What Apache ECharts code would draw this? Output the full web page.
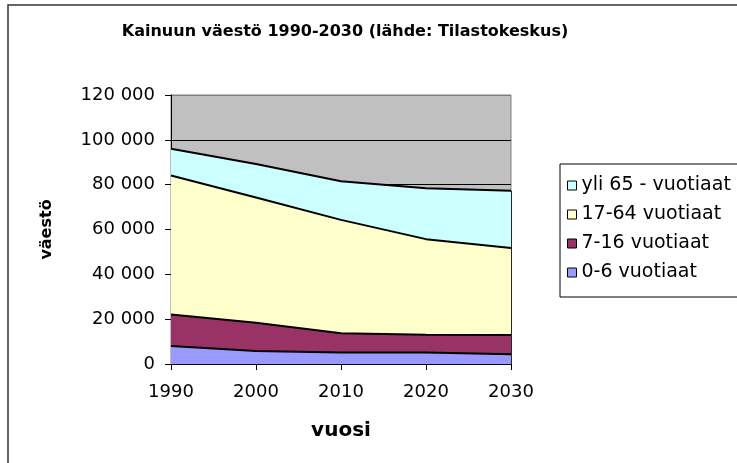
<!DOCTYPE html>
<html>
<head>
<meta charset="utf-8">
<script src="https://cdn.jsdelivr.net/npm/echarts@6/dist/echarts.min.js"></script>
<style>
    html, body { margin: 0; padding: 0; background: #fff; }
    #chart { width: 737px; height: 463px; }
</style>
</head>
<body>
<div id="chart"></div>
<script>
// vuodet (x-akseli)
var years = ['1990', '2000', '2010', '2020', '2030'];

// ikäryhmät, luettu kuvasta
var age0to6 = [8000, 5800, 5100, 5100, 4300];
var age7to16 = [14100, 12600, 8600, 7900, 8600];
var age17to64 = [62000, 55900, 50600, 42700, 38800];
var age65plus = [11900, 14900, 17200, 22700, 25600];

var seriesNames = ['0-6 vuotiaat', '7-16 vuotiaat', '17-64 vuotiaat', 'yli 65 - vuotiaat'];
var seriesColors = ['#9999FF', '#993366', '#FFFFCC', '#CCFFFF'];

// y-akseli
var yMin = 0;
var yMax = 120000;
var yStep = 20000;

var font = 'DejaVu Sans';

function fmtThousands(v) {
    return String(v).replace(/\B(?=(\d{3})+(?!\d))/g, ' ');
}

var lastTotal = age0to6[4] + age7to16[4] + age17to64[4] + age65plus[4];

function makeSeries(i, data) {
    return {
        name: seriesNames[i],
        type: 'line',
        stack: 'vaesto',
        data: data,
        symbol: 'none',
        z: 10 - i, // alempi sarja päälle, jotta viivat näkyvät kokonaan
        itemStyle: { color: seriesColors[i] },
        lineStyle: { color: '#000', width: 2 },
        areaStyle: { color: seriesColors[i], opacity: 1 },
        emphasis: { disabled: true }
    };
}

var series = [
    makeSeries(0, age0to6),
    makeSeries(1, age7to16),
    makeSeries(2, age17to64),
    makeSeries(3, age65plus)
];
// oikea reuna 2030 kohdalla
series[3].markLine = {
    silent: true,
    symbol: 'none',
    label: { show: false },
    lineStyle: { color: '#000', width: 1.6, type: 'solid' },
    data: [[{ coord: [years[4], 0] }, { coord: [years[4], lastTotal] }]]
};

var chart = echarts.init(document.getElementById('chart'));
chart.setOption({
    backgroundColor: '#fff',
    animation: false,
    title: {
        text: 'Kainuun väestö 1990-2030 (lähde: Tilastokeskus)',
        left: 345,
        top: 24,
        textAlign: 'center',
        padding: 0,
        textStyle: { fontFamily: font, fontSize: 16, fontWeight: 'bold', color: '#000' }
    },
    legend: {
        orient: 'vertical',
        left: 560,
        top: 164,
        data: [seriesNames[3], seriesNames[2], seriesNames[1], seriesNames[0]],
        icon: 'rect',
        itemWidth: 9,
        itemHeight: 9,
        itemGap: 10,
        padding: [12, 30, 15, 7],
        backgroundColor: '#fff',
        borderColor: '#000',
        borderWidth: 1,
        selectedMode: false,
        itemStyle: { borderColor: '#000', borderWidth: 1 },
        textStyle: { fontFamily: font, fontSize: 19, color: '#000' }
    },
    grid: {
        left: 171,
        right: 226,
        top: 95,
        bottom: 99,
        show: true,
        backgroundColor: '#C0C0C0',
        borderColor: '#808080',
        borderWidth: 1
    },
    xAxis: {
        type: 'category',
        data: years,
        boundaryGap: false,
        name: 'vuosi',
        nameLocation: 'middle',
        nameGap: 57,
        nameTextStyle: { fontFamily: font, fontSize: 20, fontWeight: 'bold', color: '#000' },
        axisLine: { lineStyle: { color: '#000', width: 1 } },
        axisTick: { show: true, length: 6, lineStyle: { color: '#000' } },
        axisLabel: { fontFamily: font, fontSize: 18, color: '#000', margin: 19 },
        splitLine: { show: false }
    },
    yAxis: {
        type: 'value',
        min: yMin,
        max: yMax,
        interval: yStep,
        name: 'väestö',
        nameLocation: 'middle',
        nameRotate: 90,
        nameGap: 116,
        nameTextStyle: { fontFamily: font, fontSize: 16, fontWeight: 'bold', color: '#000' },
        axisLine: { show: true, lineStyle: { color: '#000', width: 1 } },
        axisTick: { show: true, length: 6, lineStyle: { color: '#000' } },
        axisLabel: { fontFamily: font, fontSize: 18, color: '#000', margin: 16, formatter: fmtThousands },
        splitLine: {
            show: true,
            lineStyle: { color: ['#000', '#000', '#000', '#000', '#000', '#000', '#808080'], width: 1 }
        }
    },
    graphic: [{
        type: 'rect',
        silent: true,
        z: -1,
        shape: { x: 8, y: 5, width: 800, height: 500 },
        style: { fill: 'none', stroke: '#333', lineWidth: 1.5 }
    }],
    series: series
});
</script>
</body>
</html>
